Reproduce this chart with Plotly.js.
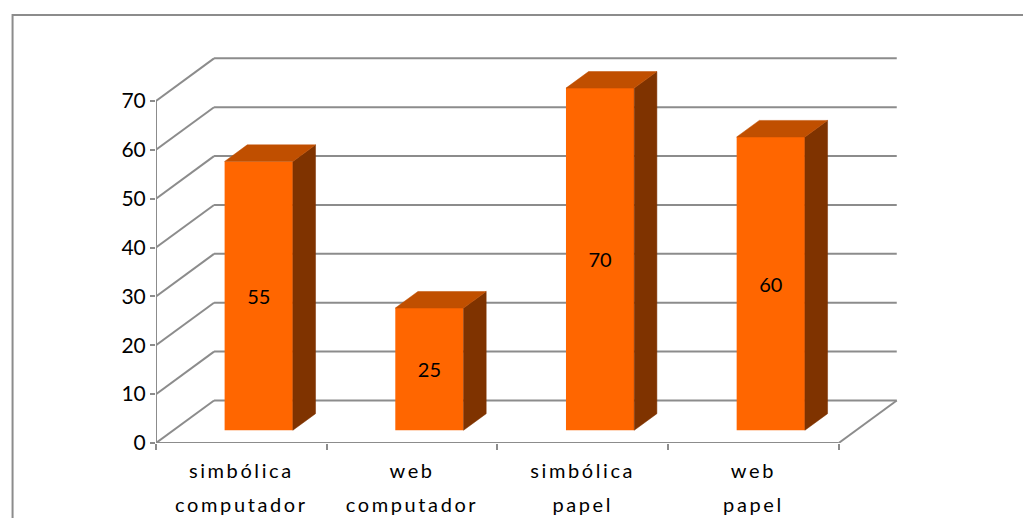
<!DOCTYPE html>
<html><head><meta charset="utf-8">
<script src="https://cdn.plot.ly/plotly-3.0.1.min.js"></script>
<style>
html,body{margin:0;padding:0;background:#fff}#c{width:1023px;height:518px}
.xtick text, .x2tick text { letter-spacing: 2.6px; }
</style>
</head><body><div id="c"></div>
<script>
const categories = ['simbólica<br>computador', 'web<br>computador', 'simbólica<br>papel', 'web<br>papel'];
const values = [55, 25, 70, 60];
const yTicks = [0, 10, 20, 30, 40, 50, 60, 70];

// 3D look parameters (in axis units)
const DX = 0.34, DY = 8.7;    // depth offset of back wall
const F = 0.3, G = 0.39;      // front face depth fraction, bar depth fraction
const BW = 0.4;               // bar width
const GRID = '#8c8c8c';

const line1 = categories.map(c => c.split('<br>')[0]);
const line2 = categories.map(c => c.split('<br>')[1]);
const catPos = categories.map((c, i) => i + 0.5);

const xs = categories.map((c, i) => i + 0.5 + F * DX);
const base = F * DY;

// side & top faces
const sx = [], sy = [], tx = [], ty = [];
values.forEach((v, i) => {
  const xl = xs[i] - BW / 2, xr = xs[i] + BW / 2, top = base + v;
  sx.push(xr, xr + G * DX, xr + G * DX, xr, xr, null);
  sy.push(base, base + G * DY, top + G * DY, top, base, null);
  tx.push(xl, xr, xr + G * DX, xl + G * DX, xl, null);
  ty.push(top, top, top + G * DY, top + G * DY, top, null);
});

const n = categories.length;
const shapes = [];
const ln = (x0, y0, x1, y1) => ({type: 'line', xref: 'x', yref: 'y', x0, y0, x1, y1, line: {color: GRID, width: 2}, layer: 'below'});
yTicks.forEach(t => {
  shapes.push(ln(DX, t + DY, n + DX, t + DY));
  shapes.push(ln(0, t, DX, t + DY));
});
shapes.push(ln(0, 0, n, 0));
shapes.push(ln(n, 0, n + DX, DY));
shapes.push(ln(0, 0, 0, yTicks[yTicks.length - 1]));
// chart area border
shapes.push({type: 'rect', xref: 'paper', yref: 'paper', x0: -0.191, y0: -0.3, x1: 1.3, y1: 1.0946, line: {color: '#8c8c8c', width: 2}, fillcolor: 'rgba(0,0,0,0)', layer: 'below'});

const font = 'Lato, Carlito, Calibri, sans-serif';

const traces = [
  {type: 'bar', x: xs, y: values, base: base, width: BW, marker: {color: '#FF6600', line: {width: 0}},
   text: values.map(String), textposition: 'inside', insidetextanchor: 'middle',
   textfont: {color: '#000', size: 20, family: font}, hoverinfo: 'skip'},
  {type: 'scatter', mode: 'lines', x: sx, y: sy, fill: 'toself', fillcolor: '#7F3300', line: {color: '#7F3300', width: 0.5}, hoverinfo: 'skip'},
  {type: 'scatter', mode: 'lines', x: tx, y: ty, fill: 'toself', fillcolor: '#C04F00', line: {color: '#C04F00', width: 0.5}, hoverinfo: 'skip'},
  {type: 'scatter', mode: 'markers', x: catPos, y: values, xaxis: 'x2', marker: {opacity: 0}, hoverinfo: 'skip'}
];

const layout = {
  width: 1023, height: 518,
  margin: {l: 156, r: 116, t: 52, b: 75},
  paper_bgcolor: '#fff', plot_bgcolor: 'rgba(0,0,0,0)',
  showlegend: false, hovermode: false,
  font: {family: font, color: '#000', size: 20},
  xaxis: {range: [0, 4.4], tickvals: catPos, ticktext: line1,
          ticks: '', showgrid: false, zeroline: false, showline: false,
          ticklabelstandoff: 14, tickfont: {size: 20, family: font},
          minor: {ticks: 'outside', tick0: 0, dtick: 1, ticklen: 6, tickcolor: GRID, tickwidth: 2, showgrid: false}},
  xaxis2: {range: [0, 4.4], overlaying: 'x', anchor: 'y', side: 'bottom', tickvals: catPos, ticktext: line2,
          ticks: '', showgrid: false, zeroline: false, showline: false,
          ticklabelstandoff: 48, tickfont: {size: 20, family: font}},
  yaxis: {range: [0, 80], tickvals: yTicks, ticks: 'outside', ticklen: 5, tickcolor: GRID, tickwidth: 2,
          showgrid: false, zeroline: false, showline: false, tickfont: {size: 21, family: font}},
  shapes: shapes
};

Plotly.newPlot('c', traces, layout, {displayModeBar: false, staticPlot: true});
</script>
</body></html>
